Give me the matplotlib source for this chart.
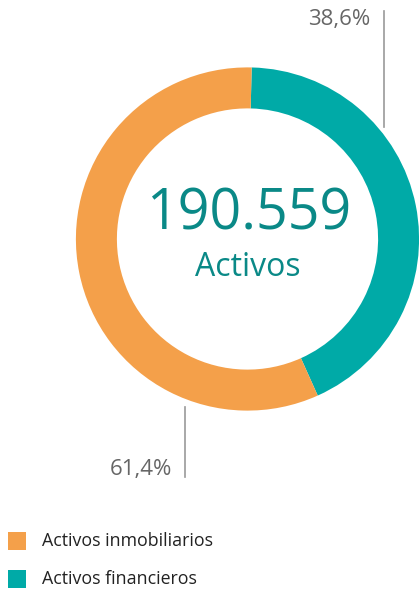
import matplotlib.pyplot as plt
from matplotlib.patches import Rectangle

# data (ring shares as drawn in the reference; label text as printed)
labels = ['Activos financieros', 'Activos inmobiliarios']
values = [42.9, 57.1]
pct_labels = ['38,6%', '61,4%']
colors = ['#00AAA7', '#F4A04A']
total_txt = '190.559'
total_sub = 'Activos'

W, H = 419, 592
plt.rcParams['font.family'] = ['Open Sans', 'DejaVu Sans']

fig = plt.figure(figsize=(W / 100, H / 100), dpi=100)
ax = fig.add_axes([0, 0, 1, 1])

cx, cy = 247.5, H - 239
r_out, ring = 171.6, 41

ax.pie(values, colors=colors, startangle=88.6, counterclock=False,
       center=(cx, cy), radius=r_out, frame=True,
       wedgeprops=dict(width=ring, edgecolor='none'))
ax.set_xlim(0, W)
ax.set_ylim(0, H)
ax.set_aspect('equal')
ax.axis('off')

# centre text
ax.text(cx + 1, H - 215, total_txt, ha='center', va='center', fontsize=40, color='#0A8987')
ax.text(cx, H - 268, total_sub, ha='center', va='center', fontsize=23, color='#0A8987')

# leader lines and percentages
ax.plot([384, 384], [H - 11, H - 127], color='#999999', lw=1.2)
ax.text(370, H - 19, pct_labels[0], ha='right', va='center', fontsize=16, color='#666666')
ax.plot([185, 185], [H - 407, H - 477], color='#999999', lw=1.2)
ax.text(172, H - 469, pct_labels[1], ha='right', va='center', fontsize=16, color='#666666')

# legend
leg_y = [541, 579]
for lab, col, y in zip(labels[::-1], colors[::-1], leg_y):
    ax.add_patch(Rectangle((8, H - y - 9), 18, 18, color=col, lw=0))
    ax.text(42, H - y, lab, ha='left', va='center', fontsize=12.8, color='#222222')

fig.savefig('out.png', dpi=100)
